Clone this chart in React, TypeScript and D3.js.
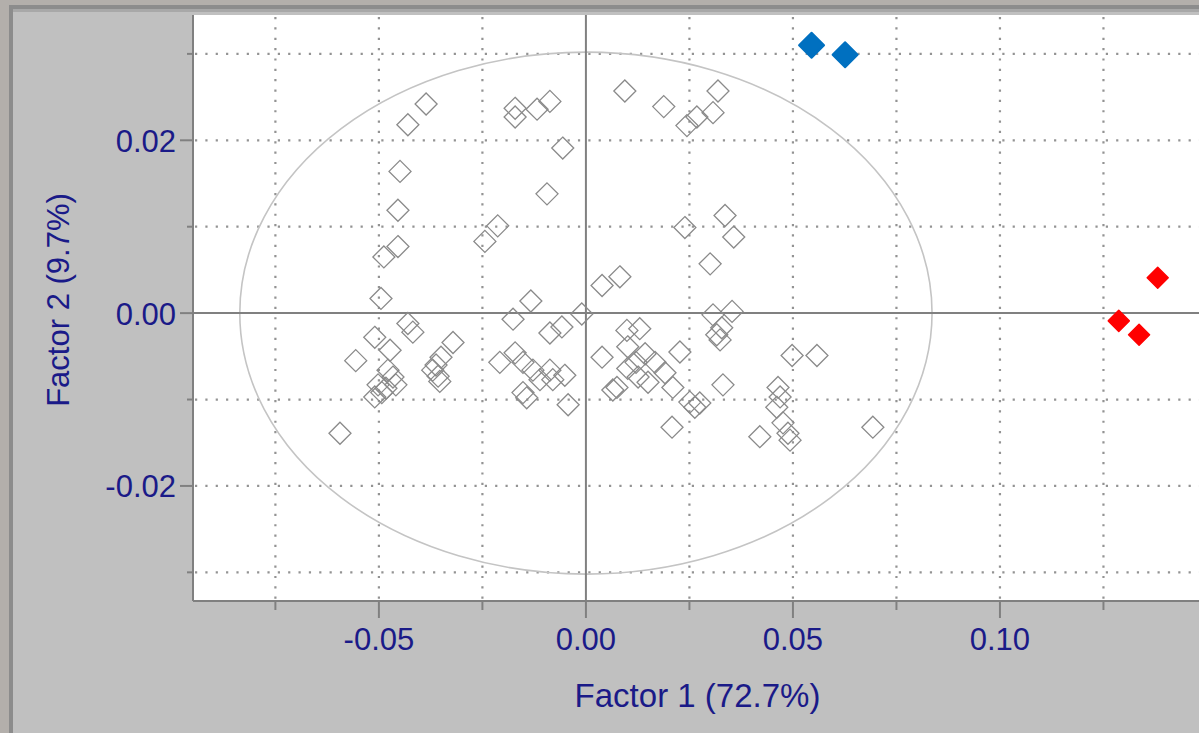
import React from "react";
import * as d3 from "d3";

// Factor scores of the reference samples (open diamonds)
const samples: [number, number][] = [
  [-0.0386, 0.0242], [-0.043, 0.0218], [-0.0171, 0.0237], [-0.0171, 0.0227], [-0.0118, 0.0236],
  [-0.0087, 0.0245], [-0.0056, 0.0191], [-0.0449, 0.0164], [-0.0094, 0.0138], [-0.0454, 0.0119],
  [-0.0213, 0.0101], [-0.0244, 0.0083], [-0.0454, 0.0077], [-0.0488, 0.0065], [-0.0495, 0.0017],
  [0.0094, 0.0257], [0.0188, 0.0239], [0.0319, 0.0257], [0.0307, 0.0232], [0.0268, 0.0227],
  [0.0244, 0.0217], [0.0336, 0.0113], [0.0239, 0.0099], [0.0357, 0.0088], [0.03, 0.0057],
  [0.0039, 0.0032], [0.0082, 0.0042], [-0.0133, 0.0014], [-0.0176, -0.0007], [-0.001, -0.0001],
  [0.0307, -0.0002], [0.0353, 0.0002], [0.0328, -0.0017], [0.0316, -0.0025], [0.0324, -0.0031],
  [0.0099, -0.002], [0.013, -0.0018],
  [-0.043, -0.0012], [-0.0418, -0.0022], [-0.051, -0.0028], [-0.0473, -0.0043], [-0.0556, -0.0055],
  [-0.0321, -0.0034], [-0.035, -0.0051], [-0.0362, -0.006], [-0.037, -0.0066], [-0.0357, -0.0073],
  [-0.0353, -0.0079], [-0.0478, -0.0066], [-0.0466, -0.0074], [-0.0459, -0.0083], [-0.0502, -0.0083],
  [-0.0483, -0.0087], [-0.051, -0.0097], [-0.0493, -0.0092], [-0.0594, -0.0139],
  [-0.0208, -0.0057], [-0.0171, -0.0046], [-0.0152, -0.0057], [-0.0128, -0.0066], [-0.0087, -0.0066],
  [-0.0051, -0.0072], [-0.0111, -0.0077], [-0.008, -0.0077], [-0.0152, -0.0092], [-0.0143, -0.0098],
  [-0.0043, -0.0106], [-0.0087, -0.0023], [-0.0058, -0.0016],
  [0.0039, -0.0051], [0.0101, -0.0039], [0.0143, -0.0047], [0.0101, -0.0064], [0.0126, -0.0074],
  [0.015, -0.008], [0.0075, -0.0086], [0.0065, -0.0089], [0.0191, -0.0069], [0.021, -0.0086],
  [0.0227, -0.0045], [0.0251, -0.0103], [0.0275, -0.0104], [0.0263, -0.0109], [0.0331, -0.0083],
  [0.0498, -0.0049], [0.0558, -0.0049], [0.0464, -0.0086], [0.0469, -0.0097], [0.0461, -0.0109],
  [0.0476, -0.0127], [0.0488, -0.0139], [0.0493, -0.0147], [0.042, -0.0143], [0.0208, -0.0132],
  [0.0693, -0.0132], [0.0167, -0.0057], [0.0121, -0.0057],
];

// Highlighted groups
const blueSamples: [number, number][] = [
  [0.0545, 0.031],
  [0.0626, 0.0299],
];
const redSamples: [number, number][] = [
  [0.1381, 0.0041],
  [0.1287, -0.0009],
  [0.1336, -0.0025],
];

// Confidence ellipse radii (in factor units)
const ellipseRx = 0.0836;
const ellipseRy = 0.0302;

const xDomain: [number, number] = [-0.0949, 0.1488];
const yDomain: [number, number] = [-0.0332, 0.0345];
const xGrid = [-0.075, -0.05, -0.025, 0.025, 0.05, 0.075, 0.1, 0.125];
const yGrid = [-0.03, -0.02, -0.01, 0.01, 0.02, 0.03];
const xTickLabels = [-0.05, 0, 0.05, 0.1];
const yTickLabels = [-0.02, 0, 0.02];
const xTicksAll = [-0.075, -0.05, -0.025, 0, 0.025, 0.05, 0.075, 0.1, 0.125];
const yTicksAll = [-0.03, -0.02, -0.01, 0, 0.01, 0.02, 0.03];

const xTitle = "Factor 1 (72.7%)";
const yTitle = "Factor 2 (9.7%)";

const W = 1199;
const H = 733;
const left = 193;
const right = 1202;
const top = 15;
const bottom = 600;

const textColor = "#1a1a88";
const font = "'Liberation Sans', Arial, sans-serif";

function diamond(cx: number, cy: number, r: number) {
  return `M${cx},${cy - r}L${cx + r},${cy}L${cx},${cy + r}L${cx - r},${cy}Z`;
}

// two decimals with a plain hyphen for negatives
const fmt2 = d3.format(".2f");
const fmt = (v: number) => fmt2(v).replace("\u2212", "-");

export default function App() {
  const x = d3.scaleLinear().domain(xDomain).range([left, right]);
  const y = d3.scaleLinear().domain(yDomain).range([bottom, top]);
  const x0 = x(0);
  const y0 = y(0);
  const isMajor = (v: number, list: number[]) => list.some((m) => Math.abs(m - v) < 1e-9);

  return (
    <svg
      width={W}
      height={H}
      style={{ position: "fixed", left: 0, top: 0, display: "block" }}
    >
      {/* window frame */}
      <rect x={0} y={0} width={W} height={H} fill="#b3afab" />
      <rect x={9} y={5} width={W} height={H} fill="#8c8c8c" />
      <rect x={13} y={9} width={W} height={H} fill="#a8a8a8" />
      <rect x={13} y={12} width={W} height={H} fill="#c0c0c0" />

      {/* plot area */}
      <rect x={left} y={top} width={right - left} height={bottom - top} fill="#ffffff" />

      {/* dotted grid */}
      <g stroke="#939393" strokeWidth={2.2} strokeDasharray="2.2 8.15" fill="none">
        {xGrid.map((v) => (
          <line key={"gx" + v} x1={x(v)} x2={x(v)} y1={top + 2} y2={bottom} />
        ))}
        {yGrid.map((v) => (
          <line key={"gy" + v} x1={left + 2} x2={right} y1={y(v)} y2={y(v)} />
        ))}
      </g>

      {/* ellipse */}
      <ellipse
        cx={x0}
        cy={y0}
        rx={x(ellipseRx) - x0}
        ry={y0 - y(ellipseRy)}
        fill="none"
        stroke="#c4c4c4"
        strokeWidth={1.6}
      />

      {/* zero lines */}
      <g stroke="#808080" strokeWidth={2}>
        <line x1={x0} x2={x0} y1={top} y2={bottom} />
        <line x1={left} x2={right} y1={y0} y2={y0} />
      </g>

      {/* open sample markers */}
      <g fill="none" stroke="#8a8a8a" strokeWidth={1.3}>
        {samples.map(([a, b], i) => (
          <path key={"s" + i} d={diamond(x(a), y(b), 11)} />
        ))}
      </g>

      {/* highlighted markers */}
      <g fill="#0070c0" stroke="#0070c0" strokeWidth={2} strokeLinejoin="round">
        {blueSamples.map(([a, b], i) => (
          <path key={"b" + i} d={diamond(x(a), y(b), 12.5)} />
        ))}
      </g>
      <g fill="#ff0000" stroke="#ff0000" strokeWidth={1.5} strokeLinejoin="round">
        {redSamples.map(([a, b], i) => (
          <path key={"r" + i} d={diamond(x(a), y(b), 10.5)} />
        ))}
      </g>

      {/* axes border */}
      <g stroke="#808080" strokeWidth={2}>
        <line x1={left} x2={left} y1={top} y2={bottom + 1} />
        <line x1={left} x2={right} y1={bottom + 1} y2={bottom + 1} />
        {xTicksAll.map((v) => (
          <line
            key={"tx" + v}
            x1={x(v)}
            x2={x(v)}
            y1={bottom}
            y2={bottom + (isMajor(v, xTickLabels) ? 18 : 10)}
          />
        ))}
        {yTicksAll.map((v) => (
          <line
            key={"ty" + v}
            x1={left - (isMajor(v, yTickLabels) ? 13 : 6)}
            x2={left}
            y1={y(v)}
            y2={y(v)}
          />
        ))}
      </g>

      {/* tick labels */}
      <g fill={textColor} fontFamily={font} fontSize={31}>
        {xTickLabels.map((v) => (
          <text key={"lx" + v} x={x(v)} y={650} textAnchor="middle">
            {fmt(v)}
          </text>
        ))}
        {yTickLabels.map((v) => (
          <text key={"ly" + v} x={176} y={y(v) + 11.5} textAnchor="end">
            {fmt(v)}
          </text>
        ))}
      </g>

      {/* axis titles */}
      <text
        x={(left + right) / 2}
        y={707}
        textAnchor="middle"
        fill={textColor}
        fontFamily={font}
        fontSize={33}
      >
        {xTitle}
      </text>
      <text
        transform={`translate(69,300) rotate(-90)`}
        textAnchor="middle"
        fill={textColor}
        fontFamily={font}
        fontSize={31}
      >
        {yTitle}
      </text>
    </svg>
  );
}
